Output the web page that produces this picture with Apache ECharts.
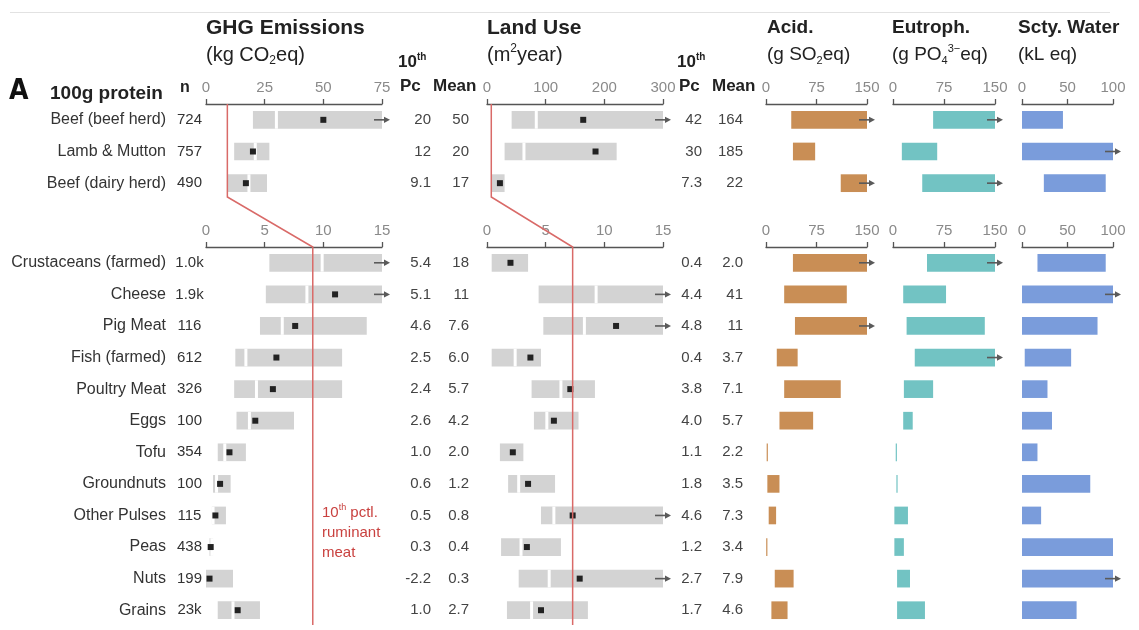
<!DOCTYPE html>
<html>
<head>
<meta charset="utf-8">
<title>Environmental impacts per 100g protein</title>
<script src="https://cdn.jsdelivr.net/npm/echarts@6/dist/echarts.min.js"></script>
<style>
  html, body { margin: 0; padding: 0; background: #fff; }
  #chart { width: 1139px; height: 630px; }
</style>
</head>
<body>
<div id="chart"></div>
<script>
// ---- Products and sample sizes ----
const upperFoods = ['Beef (beef herd)', 'Lamb & Mutton', 'Beef (dairy herd)'];
const upperN = ['724', '757', '490'];
const lowerFoods = ['Crustaceans (farmed)', 'Cheese', 'Pig Meat', 'Fish (farmed)', 'Poultry Meat', 'Eggs',
  'Tofu', 'Groundnuts', 'Other Pulses', 'Peas', 'Nuts', 'Grains'];
const lowerN = ['1.0k', '1.9k', '116', '612', '326', '100', '354', '100', '115', '438', '199', '23k'];

// ---- GHG emissions (kg CO2eq): 10th pctl, median, 90th pctl, mean ----
const ghgP10Up = [20, 12, 9.1];
const ghgMedUp = [30, 21, 18.3];
const ghgP90Up = [105, 27, 26];
const ghgMeanUp = [50, 20, 17];
const ghgP10Low = [5.4, 5.1, 4.6, 2.5, 2.4, 2.6, 1.0, 0.6, 0.5, 0.3, -2.2, 1.0];
const ghgMedLow = [9.9, 8.6, 6.5, 3.4, 4.3, 3.7, 1.6, 0.9, 0.6, 0.5, null, 2.3];
const ghgP90Low = [26, 22, 13.7, 11.6, 11.6, 7.5, 3.4, 2.1, 1.7, 0.6, 2.3, 4.6];
const ghgMeanLow = [18, 11, 7.6, 6.0, 5.7, 4.2, 2.0, 1.2, 0.8, 0.4, 0.3, 2.7];

// ---- Land use (m2year) ----
const landP10Up = [42, 30, 7.3];
const landMedUp = [84, 63, null];
const landP90Up = [420, 221, 30];
const landMeanUp = [164, 185, 22];
const landP10Low = [0.4, 4.4, 4.8, 0.4, 3.8, 4.0, 1.1, 1.8, 4.6, 1.2, 2.7, 1.7];
const landMedLow = [null, 9.3, 8.3, 2.4, 6.3, 5.1, null, 2.7, 5.7, 2.9, 5.3, 3.8];
const landP90Low = [3.5, 100, 23, 4.6, 9.2, 7.8, 3.1, 5.8, 17, 6.3, 18, 8.6];
const landMeanLow = [2.0, 41, 11, 3.7, 7.1, 5.7, 2.2, 3.5, 7.3, 3.4, 7.9, 4.6];

// ---- Acidification (g SO2eq), eutrophication (g PO4eq), scarcity-weighted water (kL eq): low / high ----
const acidLoUp = [37.5, 40, 111];
const acidHiUp = [240, 73, 190];
const acidLoLow = [40, 27, 43, 16, 27, 20, 1, 2, 4, 0.3, 13, 8];
const acidHiLow = [180, 120, 160, 47, 111, 70, 2.5, 20, 15, 2, 41, 32];
const eutLoUp = [59, 13, 43];
const eutHiUp = [300, 65, 200];
const eutLoLow = [50, 15, 20, 32, 16, 15, 4, 5, 2, 2, 6, 6];
const eutHiLow = [200, 78, 135, 180, 59, 29, 5.5, 6.5, 22, 16, 25, 47];
const waterLoUp = [0, 0, 24];
const waterHiUp = [45, 130, 92];
const waterLoLow = [17, 0, 0, 3, 0, 0, 0, 0, 0, 0, 0, 0];
const waterHiLow = [92, 140, 83, 54, 28, 33, 17, 75, 21, 100, 150, 60];

// 10th percentile of ruminant meat (reference line)
const ghgRuminantP10 = 9.1;
const landRuminantP10 = 7.3;

// ---- Axis scales ----
const ghgUpAxis = { min: 0, max: 75, interval: 25 };
const ghgLowAxis = { min: 0, max: 15, interval: 5 };
const landUpAxis = { min: 0, max: 300, interval: 100 };
const landLowAxis = { min: 0, max: 15, interval: 5 };
const acidAxis = { min: 0, max: 150, interval: 75 };
const eutAxis = { min: 0, max: 150, interval: 75 };
const waterAxis = { min: 0, max: 100, interval: 50 };

// ---- Styling ----
const FONT = "'Liberation Sans', Arial, Helvetica, sans-serif";
const GREY_BAR = '#d3d3d3';
const ACID_COLOR = '#c98e55';
const EUT_COLOR = '#72c3c3';
const WATER_COLOR = '#7a9cdb';
const RED_LINE = '#d96a68';
const RED_TEXT = '#c9413f';
const ARROW = '#5a5a5a';

// layout of panels (pixels)
const UP_TOP = 104, UP_H = 95;
const LOW_TOP = 247, LOW_H = 379;
const cols = [
  { left: 206, width: 176 },  // GHG
  { left: 487, width: 176 },  // Land
  { left: 766, width: 101 },  // Acid
  { left: 893, width: 102 },  // Eutroph
  { left: 1022, width: 91 }   // Water
];

const chart = echarts.init(document.getElementById('chart'), null, { renderer: 'canvas' });

const grids = [];
cols.forEach(c => grids.push({ left: c.left, width: c.width, top: UP_TOP, height: UP_H }));
cols.forEach(c => grids.push({ left: c.left, width: c.width, top: LOW_TOP, height: LOW_H }));

function valueAxis(gridIndex, scale) {
  return {
    type: 'value', gridIndex, position: 'top',
    min: scale.min, max: scale.max, interval: scale.interval,
    axisLine: { show: true, lineStyle: { color: '#555', width: 1.3 } },
    axisTick: { show: true, length: 5, lineStyle: { color: '#555', width: 1.3 } },
    axisLabel: { color: '#8a8a8a', fontSize: 15, margin: 9, fontFamily: FONT },
    splitLine: { show: false }
  };
}
const axisScales = [ghgUpAxis, landUpAxis, acidAxis, eutAxis, waterAxis,
  ghgLowAxis, landLowAxis, acidAxis, eutAxis, waterAxis];
const xAxes = axisScales.map((s, i) => valueAxis(i, s));

function fmtNum(v) {
  return Math.abs(v) < 10 ? v.toFixed(1) : String(Math.round(v));
}

function hiddenCat(gridIndex, names) {
  return {
    type: 'category', gridIndex, inverse: true, data: names,
    axisLine: { show: false }, axisTick: { show: false }, axisLabel: { show: false },
    splitLine: { show: false }
  };
}
function nameCat(gridIndex, names, ns) {
  return {
    type: 'category', gridIndex, inverse: true, data: names, position: 'left',
    axisLine: { show: false }, axisTick: { show: false }, splitLine: { show: false },
    axisLabel: {
      margin: 0,
      formatter: (v, i) => `{nm|${v}}{n|${ns[i]}}`,
      rich: {
        nm: { fontSize: 16, color: '#333', fontFamily: FONT, padding: [0, 7, 0, 0] },
        n: { fontSize: 15, color: '#333', fontFamily: FONT, width: 33, align: 'left' }
      }
    }
  };
}
function statCat(gridIndex, names, p10, mean, margin, w1, w2) {
  return {
    type: 'category', gridIndex, inverse: true, data: names, position: 'right',
    axisLine: { show: false }, axisTick: { show: false }, splitLine: { show: false },
    axisLabel: {
      margin,
      formatter: (v, i) => `{pc|${fmtNum(p10[i])}}{mn|${fmtNum(mean[i])}}`,
      rich: {
        pc: { fontSize: 15, color: '#444', fontFamily: FONT, width: w1, align: 'right' },
        mn: { fontSize: 15, color: '#444', fontFamily: FONT, width: w2, align: 'right' }
      }
    }
  };
}

const yAxes = [
  nameCat(0, upperFoods, upperN),
  hiddenCat(1, upperFoods), hiddenCat(2, upperFoods), hiddenCat(3, upperFoods), hiddenCat(4, upperFoods),
  nameCat(5, lowerFoods, lowerN),
  hiddenCat(6, lowerFoods), hiddenCat(7, lowerFoods), hiddenCat(8, lowerFoods), hiddenCat(9, lowerFoods),
  statCat(0, upperFoods, ghgP10Up, ghgMeanUp, 16, 33, 38),   // 10
  statCat(5, lowerFoods, ghgP10Low, ghgMeanLow, 16, 33, 38), // 11
  statCat(1, upperFoods, landP10Up, landMeanUp, 8, 31, 41),  // 12
  statCat(6, lowerFoods, landP10Low, landMeanLow, 8, 31, 41) // 13
];

// arrow marking a range that continues past the axis end
function arrowShapes(xEnd, yc) {
  return [
    { type: 'line', shape: { x1: xEnd - 8, y1: yc, x2: xEnd + 4, y2: yc },
      style: { stroke: ARROW, lineWidth: 1.6 }, z2: 5 },
    { type: 'polygon', shape: { points: [[xEnd + 8, yc], [xEnd + 2, yc - 3.2], [xEnd + 2, yc + 3.2]] },
      style: { fill: ARROW }, z2: 5 }
  ];
}

// grey 10th-90th percentile bar with median gap and mean square
function rangeRender(params, api) {
  const cs = params.coordSys;
  const cat = api.value(0);
  const lo = api.value(1), med = api.value(2), hi = api.value(3), mean = api.value(4);
  const yc = api.coord([0, cat])[1];
  const h = api.size([0, 1])[1] * 0.56;
  const x0 = cs.x, x1 = cs.x + cs.width;
  const clamp = v => Math.max(x0, Math.min(x1, v));
  const xl = clamp(api.coord([lo, cat])[0]);
  const xhRaw = api.coord([hi, cat])[0];
  const xh = clamp(xhRaw);
  const children = [{
    type: 'rect', shape: { x: xl, y: yc - h / 2, width: Math.max(1, xh - xl), height: h },
    style: { fill: GREY_BAR }
  }];
  if (!isNaN(med)) {
    const xm = api.coord([med, cat])[0];
    if (xm > x0 && xm < x1) {
      children.push({ type: 'rect', shape: { x: xm - 1.5, y: yc - h / 2, width: 3, height: h },
        style: { fill: '#fff' }, z2: 2 });
    }
  }
  if (!isNaN(mean)) {
    const xmean = api.coord([mean, cat])[0];
    if (xmean >= x0 - 0.5 && xmean <= x1 + 0.5) {
      children.push({ type: 'rect', shape: { x: xmean - 3, y: yc - 3, width: 6, height: 6 },
        style: { fill: '#222' }, z2: 3 });
    }
  }
  if (xhRaw > x1 + 0.5) children.push(...arrowShapes(x1, yc));
  return { type: 'group', children };
}

// coloured low-high bar
function barRender(color) {
  return function (params, api) {
    const cs = params.coordSys;
    const cat = api.value(0);
    const yc = api.coord([0, cat])[1];
    const h = api.size([0, 1])[1] * 0.56;
    const x0 = cs.x, x1 = cs.x + cs.width;
    const clamp = v => Math.max(x0, Math.min(x1, v));
    const xl = clamp(api.coord([api.value(1), cat])[0]);
    const xhRaw = api.coord([api.value(2), cat])[0];
    const xh = clamp(xhRaw);
    const children = [{
      type: 'rect', shape: { x: xl, y: yc - h / 2, width: Math.max(1.2, xh - xl), height: h },
      style: { fill: color }
    }];
    if (xhRaw > x1 + 0.5) children.push(...arrowShapes(x1, yc));
    return { type: 'group', children };
  };
}

function rangeData(p10, med, p90, mean) {
  return p10.map((v, i) => [i, v, med[i], p90[i], mean[i]]);
}
function barData(lo, hi) {
  return lo.map((v, i) => [i, v, hi[i]]);
}

function rangeSeries(axisIndex, data) {
  return {
    type: 'custom', coordinateSystem: 'cartesian2d',
    xAxisIndex: axisIndex, yAxisIndex: axisIndex,
    dimensions: ['cat', 'p10', 'med', 'p90', 'mean'],
    encode: { y: 'cat', x: ['p10', 'p90'] },
    renderItem: rangeRender, data, silent: true, animation: false
  };
}
function barSeries(axisIndex, color, data) {
  return {
    type: 'custom', coordinateSystem: 'cartesian2d',
    xAxisIndex: axisIndex, yAxisIndex: axisIndex,
    dimensions: ['cat', 'lo', 'hi'],
    encode: { y: 'cat', x: ['lo', 'hi'] },
    renderItem: barRender(color), data, silent: true, animation: false
  };
}

const series = [
  rangeSeries(0, rangeData(ghgP10Up, ghgMedUp, ghgP90Up, ghgMeanUp)),
  rangeSeries(1, rangeData(landP10Up, landMedUp, landP90Up, landMeanUp)),
  barSeries(2, ACID_COLOR, barData(acidLoUp, acidHiUp)),
  barSeries(3, EUT_COLOR, barData(eutLoUp, eutHiUp)),
  barSeries(4, WATER_COLOR, barData(waterLoUp, waterHiUp)),
  rangeSeries(5, rangeData(ghgP10Low, ghgMedLow, ghgP90Low, ghgMeanLow)),
  rangeSeries(6, rangeData(landP10Low, landMedLow, landP90Low, landMeanLow)),
  barSeries(7, ACID_COLOR, barData(acidLoLow, acidHiLow)),
  barSeries(8, EUT_COLOR, barData(eutLoLow, eutHiLow)),
  barSeries(9, WATER_COLOR, barData(waterLoLow, waterHiLow))
];

chart.setOption({
  backgroundColor: '#fff',
  animation: false,
  textStyle: { fontFamily: FONT },
  grid: grids,
  xAxis: xAxes,
  yAxis: yAxes,
  series
});

// ---- headings, units and the ruminant reference line ----
function text(x, y, str, size, weight, fill, extra) {
  return Object.assign({
    type: 'text', x, y, silent: true, z: 10,
    style: { text: str, fontFamily: FONT, fontSize: size, fontWeight: weight || 'normal',
      fill: fill || '#222', align: 'left', verticalAlign: 'middle' }
  }, extra || {});
}
function richText(x, y, str, rich) {
  return { type: 'text', x, y, silent: true, z: 10,
    style: { text: str, rich, align: 'left', verticalAlign: 'middle', fontFamily: FONT } };
}
const unitRich = (size) => ({
  r: { fontSize: size, fontFamily: FONT, fill: '#222', lineHeight: size + 4 },
  sub: { fontSize: Math.round(size * 0.6), fontFamily: FONT, fill: '#222', verticalAlign: 'bottom', lineHeight: size + 4 },
  sup: { fontSize: Math.round(size * 0.6), fontFamily: FONT, fill: '#222', verticalAlign: 'top', lineHeight: size + 4 }
});
const thRich = {
  b: { fontSize: 17, fontWeight: 'bold', fontFamily: FONT, fill: '#222', lineHeight: 20 },
  s: { fontSize: 10, fontWeight: 'bold', fontFamily: FONT, fill: '#222', verticalAlign: 'top', lineHeight: 20 }
};
const redRich = {
  a: { fontSize: 15, fontFamily: FONT, fill: RED_TEXT, lineHeight: 20 },
  s: { fontSize: 9, fontFamily: FONT, fill: RED_TEXT, verticalAlign: 'top', lineHeight: 20 }
};

const px = (axisIndex, v) => chart.convertToPixel({ xAxisIndex: axisIndex }, v);
const ghgTopX = px(0, ghgRuminantP10), ghgLowX = px(5, ghgRuminantP10);
const landTopX = px(1, landRuminantP10), landLowX = px(6, landRuminantP10);
const bendY = UP_TOP + UP_H - 2;
const endY = LOW_TOP + LOW_H - 1;

chart.setOption({
  graphic: [
    { type: 'line', silent: true, shape: { x1: 10, y1: 12.5, x2: 1110, y2: 12.5 },
      style: { stroke: '#e2e2e2', lineWidth: 1 } },
    text(206, 28, 'GHG Emissions', 21, 'bold'),
    richText(206, 55, '{r|(kg CO}{sub|2}{r|eq)}', unitRich(20)),
    text(487, 28, 'Land Use', 21, 'bold'),
    richText(487, 55, '{r|(m}{sup|2}{r|year)}', unitRich(20)),
    text(767, 28, 'Acid.', 19, 'bold'),
    richText(767, 55, '{r|(g SO}{sub|2}{r|eq)}', unitRich(19)),
    text(892, 28, 'Eutroph.', 19, 'bold'),
    richText(892, 55, '{r|(g PO}{sub|4}{sup|3−}{r|eq)}', unitRich(19)),
    text(1018, 28, 'Scty. Water', 19, 'bold'),
    richText(1018, 55, '{r|(kL eq)}', unitRich(19)),

    text(9, 92, 'A', 28, 'bold', '#111',
      { style: { text: 'A', fontFamily: "'Liberation Sans Narrow', 'DejaVu Sans Condensed', " + FONT,
        fontSize: 28, fontWeight: 'bold', fill: '#111', align: 'left', verticalAlign: 'middle' } }),
    text(50, 94, '100g protein', 19, 'bold'),
    text(180, 88, 'n', 16, 'bold'),

    richText(398, 62, '{b|10}{s|th}', thRich),
    text(400, 86, 'Pc', 17, 'bold'),
    text(433, 86, 'Mean', 17, 'bold'),
    richText(677, 62, '{b|10}{s|th}', thRich),
    text(679, 86, 'Pc', 17, 'bold'),
    text(712, 86, 'Mean', 17, 'bold'),

    { type: 'polyline', silent: true, z: 20,
      shape: { points: [[ghgTopX, UP_TOP], [ghgTopX, bendY], [ghgLowX, LOW_TOP], [ghgLowX, endY]] },
      style: { stroke: RED_LINE, lineWidth: 1.5, fill: null } },
    { type: 'polyline', silent: true, z: 20,
      shape: { points: [[landTopX, UP_TOP], [landTopX, bendY], [landLowX, LOW_TOP], [landLowX, endY]] },
      style: { stroke: RED_LINE, lineWidth: 1.5, fill: null } },

    richText(322, 513, '{a|10}{s|th}{a| pctl.}', redRich),
    text(322, 533, 'ruminant', 15, 'normal', RED_TEXT),
    text(322, 553, 'meat', 15, 'normal', RED_TEXT)
  ]
});
</script>
</body>
</html>
